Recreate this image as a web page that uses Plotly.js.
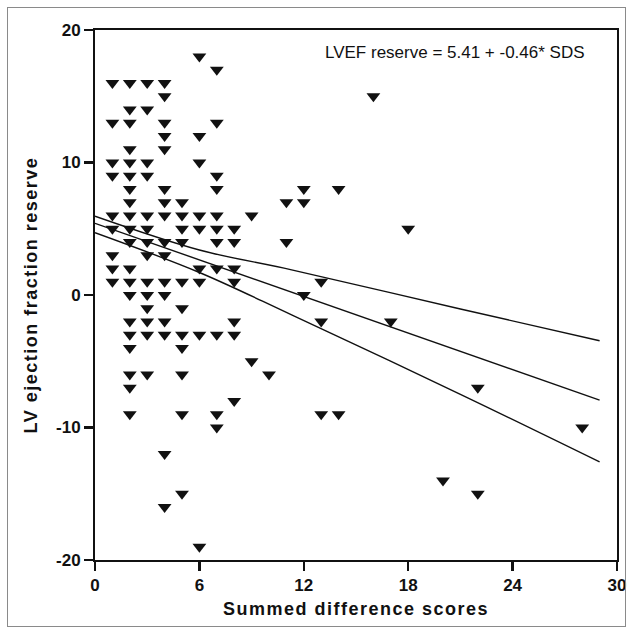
<!DOCTYPE html>
<html>
<head>
<meta charset="utf-8">
<script src="https://cdn.plot.ly/plotly-3.0.1.min.js"></script>
<style>
  html, body { margin: 0; padding: 0; background: #fff; }
  #wrap { position: relative; width: 634px; height: 636px; }
  #chart { width: 634px; height: 636px; }
  #frame { position: absolute; left: 7px; top: 7px; width: 619px; height: 620px;
           border: 1px solid #8a8a8a; pointer-events: none; box-sizing: border-box; }
  .xtitle, .ytitle { letter-spacing: 1.5px; }
</style>
</head>
<body>
<div id="wrap"><div id="chart"></div><div id="frame"></div></div>
<script>
// Summed difference scores (x) and LV ejection fraction reserve (y)
const sdsValues = [
  1,1,1,1,1,1,1,1,1,
  2,2,2,2,2,2,2,2,2,2,2,2,2,2,2,2,2,2,2,2,
  3,3,3,3,3,3,3,3,3,3,3,3,3,3,
  4,4,4,4,4,4,4,4,4,4,4,4,4,4,4,4,
  5,5,5,5,5,5,5,5,5,5,5,
  6,6,6,6,6,6,6,6,6,
  7,7,7,7,7,7,7,7,7,7,7,
  8,8,8,8,8,8,8,
  9,9,
  10,
  11,11,
  12,12,12,
  13,13,13,
  14,14,
  16,
  17,
  18,
  20,
  22,22,
  28
];
const lvefReserve = [
  16,13,10,9,6,5,3,2,1,
  16,14,13,11,10,9,8,7,6,5,4,2,1,0,-2,-3,-4,-6,-7,-9,
  16,14,10,9,6,5,4,3,1,0,-1,-2,-3,-6,
  16,15,13,12,11,8,7,6,4,3,1,0,-2,-3,-12,-16,
  7,6,5,4,1,-1,-3,-4,-6,-9,-15,
  18,12,10,6,5,2,1,-3,-19,
  17,13,9,8,6,5,4,2,-3,-9,-10,
  5,4,2,1,-2,-3,-8,
  6,-5,
  -6,
  7,4,
  8,7,0,
  1,-2,-9,
  8,-9,
  15,
  -2,
  5,
  -14,
  -7,-15,
  -10
];

// Regression line and confidence band
const fitX = [0, 29];
const fitY = [5.41, -7.93];
const bandX = [0, 6, 11.3, 21, 29];
const bandUpper = [5.95, 3.4, 1.9, -1.06, -3.45];
const bandLower = [4.7, 1.7, -1.5, -7.5, -12.6];

const xTicks = [0, 6, 12, 18, 24, 30];
const yTicks = [-20, -10, 0, 10, 20];
const equationText = 'LVEF reserve = 5.41 + -0.46* SDS';

const lineStyle = {color: '#111', width: 1.4};

const traces = [
  {x: sdsValues, y: lvefReserve, type: 'scatter', mode: 'markers',
   marker: {symbol: 'triangle-down', size: 12, color: '#111', line: {width: 0}},
   hoverinfo: 'x+y'},
  {x: fitX, y: fitY, type: 'scatter', mode: 'lines', line: lineStyle},
  {x: bandX, y: bandUpper, type: 'scatter', mode: 'lines', line: Object.assign({shape: 'spline'}, lineStyle)},
  {x: bandX, y: bandLower, type: 'scatter', mode: 'lines', line: Object.assign({shape: 'spline'}, lineStyle)}
];

const tickFont = {family: 'Arial, "Liberation Sans", sans-serif', size: 17, color: '#111', weight: 'bold'};
const titleFont = {family: 'Arial, "Liberation Sans", sans-serif', size: 18, color: '#111', weight: 'bold'};

const layout = {
  width: 634, height: 636,
  margin: {l: 95, r: 17, t: 30, b: 76},
  paper_bgcolor: '#fff', plot_bgcolor: '#fff',
  showlegend: false,
  xaxis: {
    range: [0, 30], tickvals: xTicks, ticktext: xTicks.map(String),
    showgrid: false, zeroline: false,
    showline: true, linecolor: '#111', linewidth: 2, mirror: true,
    ticks: 'outside', ticklen: 9, tickwidth: 2.5, tickcolor: '#111',
    tickfont: tickFont,
    title: {text: 'Summed difference scores', standoff: 8, font: titleFont}
  },
  yaxis: {
    range: [-20, 20], tickvals: yTicks, ticktext: yTicks.map(String),
    showgrid: false, zeroline: false,
    showline: true, linecolor: '#111', linewidth: 2, mirror: true,
    ticks: 'outside', ticklen: 9, tickwidth: 2.5, tickcolor: '#111',
    tickfont: tickFont,
    title: {text: 'LV ejection fraction reserve', standoff: 14, font: titleFont}
  },
  annotations: [{
    text: equationText, xref: 'x', yref: 'y', x: 28.3, y: 18.3,
    xanchor: 'right', yanchor: 'middle', showarrow: false,
    font: {family: 'Arial, "Liberation Sans", sans-serif', size: 17, color: '#111'}
  }]
};

Plotly.newPlot('chart', traces, layout, {displayModeBar: false, staticPlot: true});
</script>
</body>
</html>
